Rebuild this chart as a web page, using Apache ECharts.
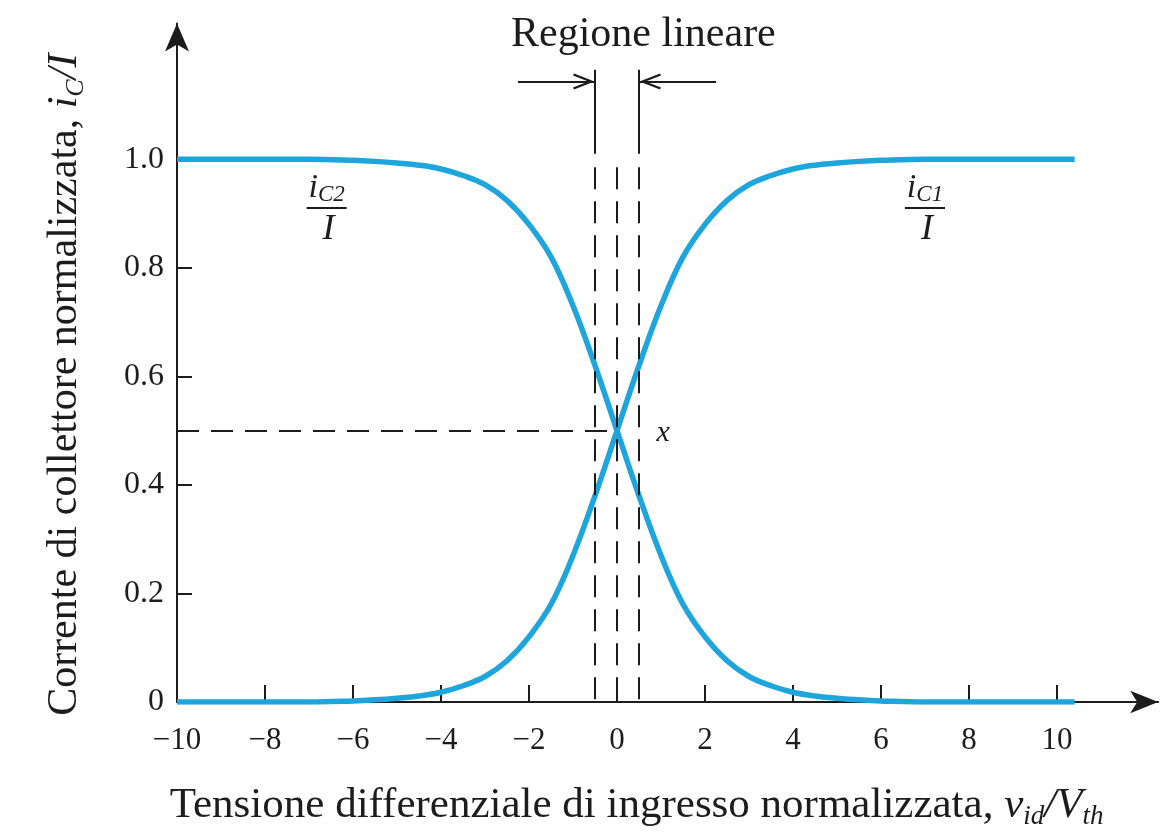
<!DOCTYPE html>
<html>
<head>
<meta charset="utf-8">
<script src="https://cdn.jsdelivr.net/npm/echarts@6/dist/echarts.min.js"></script>
<style>
  html, body { margin: 0; padding: 0; background: #ffffff; }
  #chart { width: 1176px; height: 835px; }
</style>
</head>
<body>
<div id="chart"></div>
<script>
// Normalized differential input voltage v_id / V_th
const vidRatio = [-10, -9, -8, -7, -6, -5.5, -5, -4.5, -4, -3.5, -3, -2.5, -2, -1.5, -1, -0.5,
  0, 0.5, 1, 1.5, 2, 2.5, 3, 3.5, 4, 4.5, 5, 5.5, 6, 7, 8, 9, 10, 10.4];
// Normalized collector current of Q1, i_C1 / I
const iC1 = [0, 0, 0, 0, 0.002, 0.004, 0.007, 0.011, 0.018, 0.03, 0.047, 0.076, 0.12, 0.18, 0.27, 0.38,
  0.5, 0.62, 0.73, 0.82, 0.88, 0.924, 0.953, 0.97, 0.982, 0.989, 0.993, 0.996, 0.998, 1, 1, 1, 1, 1];
// Normalized collector current of Q2, i_C2 / I
const iC2 = [1, 1, 1, 1, 0.998, 0.996, 0.993, 0.989, 0.982, 0.97, 0.953, 0.924, 0.88, 0.82, 0.73, 0.62,
  0.5, 0.38, 0.27, 0.18, 0.12, 0.076, 0.047, 0.03, 0.018, 0.011, 0.007, 0.004, 0.002, 0, 0, 0, 0, 0];

const xTickValues = [-10, -8, -6, -4, -2, 0, 2, 4, 6, 8, 10];
const yTickValues = [0, 0.2, 0.4, 0.6, 0.8, 1.0];

// Linear region bounds and the crossing point of the two curves
const linearEdges = [-0.5, 0.5];
const crossing = [0, 0.5];

const serif = "'Liberation Serif', 'Times New Roman', 'DejaVu Serif', serif";
const ink = '#1c1c1c';
const curveBlue = '#1ea5dc';

const pairs = (xs, ys) => xs.map((x, i) => [x, ys[i]]);

// Guide lines: dashed verticals, solid markers above them, the 0.5 level
const dashed = { color: ink, width: 2, type: [22, 12] };
const solid = { color: ink, width: 2, type: 'solid' };
const guideLines = [];
[linearEdges[0], crossing[0], linearEdges[1]].forEach(x => {
  guideLines.push([{ coord: [x, 0.985], lineStyle: dashed }, { coord: [x, 0] }]);
});
linearEdges.forEach(x => {
  guideLines.push([{ coord: [x, 1.165], lineStyle: solid }, { coord: [x, 1.01] }]);
});
guideLines.push([{ coord: [-10, crossing[1]], lineStyle: dashed }, { coord: [crossing[0], crossing[1]] }]);

// Open arrowhead whose tip sits on the line end
const arrowHead = 'path://M8,-22 M8,0 L16,20 L14,21 L8,6 L2,21 L0,20 Z';
const regionArrows = [
  [{ coord: [-2.25, 1.143] }, { coord: [linearEdges[0], 1.143] }],
  [{ coord: [2.25, 1.143] }, { coord: [linearEdges[1], 1.143] }]
];

const chart = echarts.init(document.getElementById('chart'), null, { renderer: 'canvas' });

const option = {
  animation: false,
  backgroundColor: '#ffffff',
  grid: { left: 177, right: 17.8, top: 23.5, bottom: 129, containLabel: false },
  xAxis: {
    type: 'value',
    min: -10,
    max: 12.3,
    interval: 2,
    splitLine: { show: false },
    axisLine: {
      show: true,
      onZero: false,
      symbol: ['none', 'arrow'],
      symbolSize: [17, 28],
      lineStyle: { color: ink, width: 2 }
    },
    axisTick: {
      show: true,
      inside: true,
      length: 17,
      customValues: xTickValues,
      lineStyle: { color: ink, width: 2 }
    },
    axisLabel: {
      show: true,
      customValues: xTickValues,
      margin: 23,
      fontFamily: serif,
      fontSize: 31,
      color: ink,
      formatter: v => (v < 0 ? '\u2212' + Math.abs(v) : String(v))
    },
    name: 'Tensione differenziale di ingresso normalizzata, {it|v}{sub|id}{it|/V}{sub|th}',
    nameLocation: 'middle',
    nameGap: 80,
    nameTextStyle: {
      fontFamily: serif,
      fontSize: 43,
      lineHeight: 48,
      color: ink,
      padding: [0, 62, 0, 0],
      rich: {
        it: { fontFamily: serif, fontSize: 43, fontStyle: 'italic', lineHeight: 48, color: ink },
        sub: { fontFamily: serif, fontSize: 27, fontStyle: 'italic', lineHeight: 27, verticalAlign: 'bottom', color: ink }
      }
    }
  },
  yAxis: {
    type: 'value',
    min: 0,
    max: 1.25,
    interval: 0.2,
    splitLine: { show: false },
    axisLine: {
      show: true,
      onZero: false,
      symbol: ['none', 'arrow'],
      symbolSize: [18, 28],
      lineStyle: { color: ink, width: 2 }
    },
    axisTick: {
      show: true,
      inside: true,
      length: 15,
      customValues: yTickValues,
      lineStyle: { color: ink, width: 2 }
    },
    axisLabel: {
      show: true,
      customValues: yTickValues,
      margin: 13,
      fontFamily: serif,
      fontSize: 32,
      color: ink,
      formatter: v => (v === 0 ? '0' : v.toFixed(1))
    },
    name: 'Corrente di collettore normalizzata, {it|i}{sub|C}{it|/I}',
    nameLocation: 'middle',
    nameRotate: 90,
    nameGap: 88,
    nameTextStyle: {
      fontFamily: serif,
      fontSize: 42,
      lineHeight: 48,
      color: ink,
      padding: [0, 44, 0, 0],
      rich: {
        it: { fontFamily: serif, fontSize: 42, fontStyle: 'italic', lineHeight: 48, color: ink },
        sub: { fontFamily: serif, fontSize: 26, fontStyle: 'italic', lineHeight: 26, verticalAlign: 'bottom', color: ink }
      }
    }
  },
  series: [
    {
      name: 'guides',
      type: 'line',
      data: [],
      silent: true,
      z: 1,
      markLine: {
        silent: true,
        symbol: ['none', 'none'],
        label: { show: false },
        lineStyle: dashed,
        data: guideLines
      }
    },
    {
      name: 'linear region arrows',
      type: 'line',
      data: [],
      silent: true,
      z: 1,
      markLine: {
        silent: true,
        symbol: ['none', arrowHead],
        symbolSize: [16, 44],
        label: { show: false },
        lineStyle: { color: ink, width: 2, type: 'solid' },
        data: regionArrows
      }
    },
    {
      name: 'iC2/I',
      type: 'line',
      data: pairs(vidRatio, iC2),
      showSymbol: false,
      smooth: 0.4,
      z: 3,
      lineStyle: { color: curveBlue, width: 5.5 },
      itemStyle: { color: curveBlue }
    },
    {
      name: 'iC1/I',
      type: 'line',
      data: pairs(vidRatio, iC1),
      showSymbol: false,
      smooth: 0.4,
      z: 3,
      lineStyle: { color: curveBlue, width: 5.5 },
      itemStyle: { color: curveBlue }
    }
  ]
};

chart.setOption(option);

// Text annotations anchored to data coordinates
const at = (x, y) => chart.convertToPixel({ xAxisIndex: 0, yAxisIndex: 0 }, [x, y]);

function fraction(cx, barLevel, sub) {
  const [px, py] = at(cx, barLevel);
  return [
    {
      type: 'text', x: px, y: py - 2, silent: true,
      style: {
        text: '{i|i}{s|' + sub + '}', align: 'center', verticalAlign: 'bottom',
        rich: {
          i: { fontFamily: serif, fontStyle: 'italic', fontSize: 34, lineHeight: 36, fill: ink },
          s: { fontFamily: serif, fontStyle: 'italic', fontSize: 23, lineHeight: 23, verticalAlign: 'bottom', fill: ink }
        }
      }
    },
    {
      type: 'line', silent: true,
      shape: { x1: px - 20, y1: py, x2: px + 20, y2: py },
      style: { stroke: ink, lineWidth: 2 }
    },
    {
      type: 'text', x: px + 2, y: py + 3, silent: true,
      style: {
        text: 'I', align: 'center', verticalAlign: 'top',
        fontFamily: serif, fontStyle: 'italic', fontSize: 36, fill: ink
      }
    }
  ];
}

const titlePos = at(0.6, 1.229);
const xMark = at(1.05, 0.495);

chart.setOption({
  graphic: [
    {
      type: 'text', x: titlePos[0], y: titlePos[1], silent: true,
      style: {
        text: 'Regione lineare', align: 'center', verticalAlign: 'middle',
        fontFamily: serif, fontSize: 42, fill: ink
      }
    },
    {
      type: 'text', x: xMark[0], y: xMark[1], silent: true,
      style: {
        text: 'x', align: 'center', verticalAlign: 'middle',
        fontFamily: serif, fontStyle: 'italic', fontSize: 30, fill: ink
      }
    },
    ...fraction(-6.6, 0.91, 'C2'),
    ...fraction(7.0, 0.91, 'C1')
  ]
});
</script>
</body>
</html>
